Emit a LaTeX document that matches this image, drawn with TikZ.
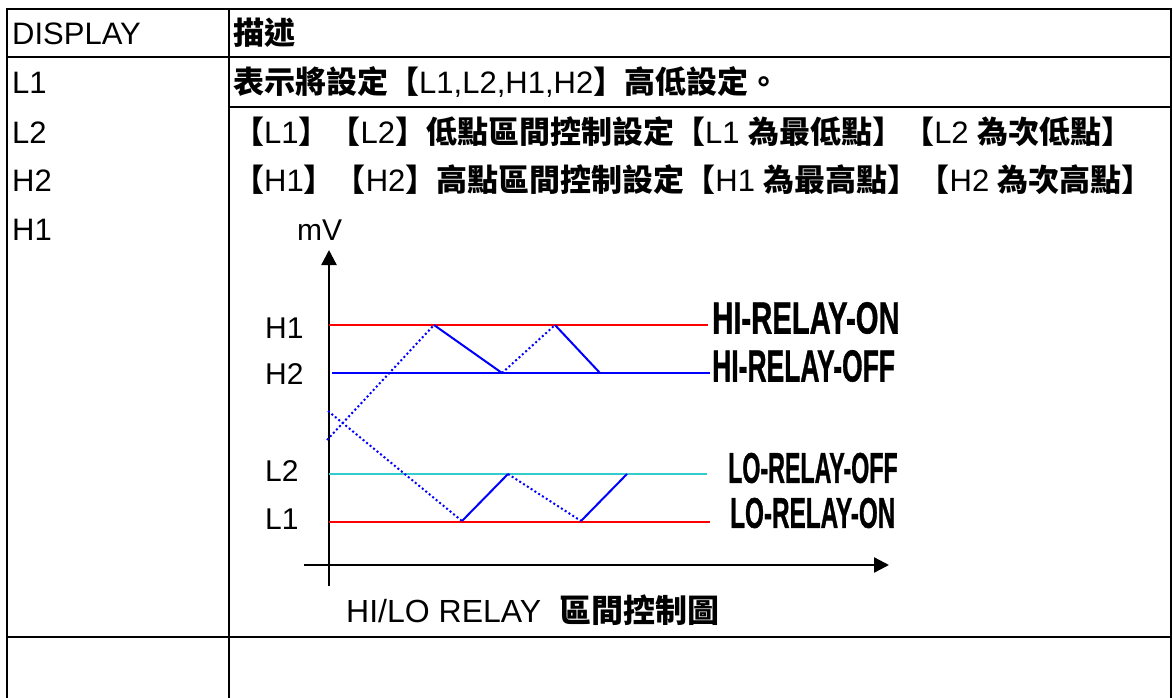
\documentclass[tikz,border=0pt]{standalone}
\usepackage{fontspec}
\usepackage{graphicx}
\setmainfont{Liberation Sans}
\newfontfamily\cjk{Noto Sans CJK TC}
\newfontfamily\relayfont[FakeBold=1.2]{Liberation Sans}
\usetikzlibrary{arrows.meta}

\definecolor{limitred}{RGB}{255,0,0}
\definecolor{traceblue}{RGB}{0,0,255}
\definecolor{lowcyan}{RGB}{51,204,204}
\newcommand{\zh}[1]{{\cjk\bfseries #1}}
\newcommand{\narrow}[2]{\scalebox{#1}[1]{#2}}

\tikzset{
  rule/.style={line width=2.7pt},
  axis/.style={line width=2.3pt, -{Triangle[width=15pt,length=15pt]}},
  level/.style={line width=2pt},
  trace/.style={traceblue, line width=2pt},
  dottrace/.style={traceblue, line width=2pt, dash pattern=on 2pt off 2.5pt},
  txt/.style={anchor=base west, inner sep=0pt, font=\fontsize{31}{37}\selectfont},
  relay/.style={anchor=west, inner sep=0pt, font=\relayfont\bfseries\fontsize{45}{50}\selectfont}
}

\begin{document}
\begin{tikzpicture}[
  x=1pt, y=-1pt
]
\useasboundingbox (0,0) rectangle (1173,698);

% table
\draw [rule] (7,698) -- (7,9) -- (1171,9) -- (1171,698);
\draw [rule] (229,9) -- (229,698);
\draw [rule] (7,57) -- (1171,57);
\draw [rule] (229,107) -- (1171,107);
\draw [rule] (7,637) -- (1171,637);

\node [txt] (disp) at (12,45) {DISPLAY};
\node [txt] (desc) at (233,45) {\zh{描述}};
\node [txt] (l1) at (12,94) {L1};
\node [txt] (l2) at (12,144) {L2};
\node [txt] (h2) at (12,192) {H2};
\node [txt] (h1) at (12,240) {H1};
\node [txt] (row1) at (233,94) {\zh{表示將設定【}L1,L2,H1,H2\zh{】高低設定。}};
\node [txt] (row2) at (233,144) {\zh{【}L1\zh{】【}L2\zh{】低點區間控制設定【}L1 \zh{為最低點】【}L2 \zh{為次低點】}};
\node [txt] (row3) at (233,192) {\zh{【}H1\zh{】【}H2\zh{】高點區間控制設定【}H1 \zh{為最高點】【}H2 \zh{為次高點】}};

% chart
\draw [axis] (329,586) -- (329,250);
\draw [axis] (304,565) -- (889,565);
\node [txt, font=\fontsize{30}{36}\selectfont] (mv) at (297,240) {mV};

\draw [level, limitred] (329,325) -- (708,325);
\draw [level, traceblue] (332,373) -- (710,373);
\draw [level, lowcyan] (329,474) -- (707,474);
\draw [level, limitred] (329,522) -- (710,522);

\node [txt, font=\fontsize{30}{36}\selectfont] (lvh1) at (265,338) {H1};
\node [txt, font=\fontsize{30}{36}\selectfont] (lvh2) at (265,384) {H2};
\node [txt, font=\fontsize{30}{36}\selectfont] (lvl2) at (265,481) {L2};
\node [txt, font=\fontsize{30}{36}\selectfont] (lvl1) at (265,529) {L1};

\draw [dottrace] (327,440) -- (434,325);
\draw [trace] (434,325) -- (502,373);
\draw [dottrace] (502,373) -- (555,325);
\draw [trace] (555,325) -- (600,373);

\draw [dottrace] (328,411) -- (462,521);
\draw [trace] (462,521) -- (508,474);
\draw [dottrace] (508,474) -- (581,521);
\draw [trace] (581,521) -- (627,474);

\node [relay] (hion) at (712,318) {\narrow{0.65}{HI-RELAY-ON}};
\node [relay] (hioff) at (712,366) {\narrow{0.588}{HI-RELAY-OFF}};
\node [relay, font=\relayfont\bfseries\fontsize{43}{48}\selectfont] (looff) at (728,468) {\narrow{0.54}{LO-RELAY-OFF}};
\node [relay, font=\relayfont\bfseries\fontsize{43}{48}\selectfont] (loon) at (730,513) {\narrow{0.565}{LO-RELAY-ON}};

\node [txt, font=\fontsize{32}{38}\selectfont] (caption) at (346,622) {HI/LO RELAY\ \ \zh{區間控制圖}};
\end{tikzpicture}
\end{document}
